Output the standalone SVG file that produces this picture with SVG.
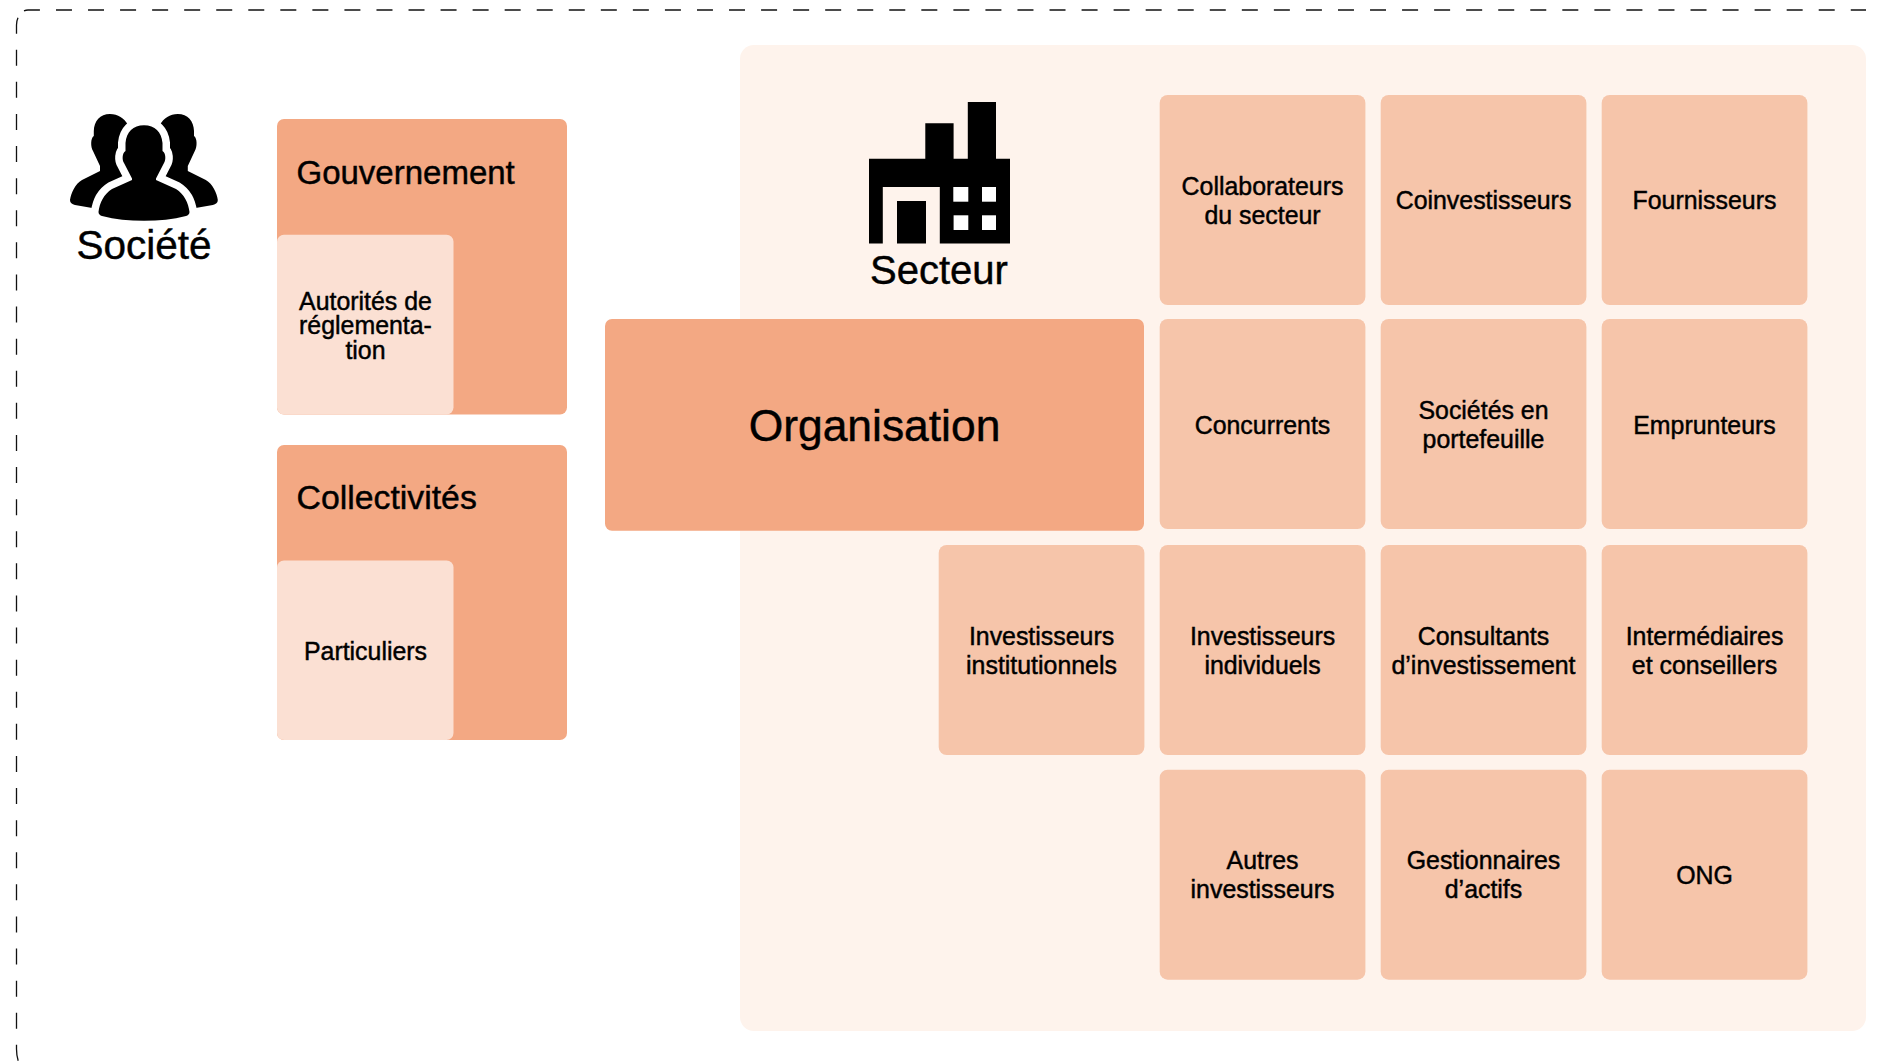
<svg xmlns="http://www.w3.org/2000/svg" width="1879" height="1062" viewBox="0 0 1879 1062">
<style>
text{font-family:"Liberation Sans",Arial,Helvetica,sans-serif;fill:#000;text-anchor:middle;stroke:#000;stroke-width:.45px}
.card{fill:#f6c5aa}
.strong{fill:#f3a883}
.sub{fill:#fbe0d3}
.t{font-size:24.9px}
.h{font-size:33px;text-anchor:start}
.b{font-size:40.5px}
.frame{fill:none;stroke:#111;stroke-width:1.3;stroke-dasharray:16 16.05}
</style>
<rect width="1879" height="1062" fill="#fff"/>
<g id="frame">
<path class="frame" d="M24,10.800 Q26,10 28,10 H1866"/>
<path class="frame" style="stroke-dasharray:16 16.1" d="M18,17.800 Q16.500,21 16.500,25 V1049 Q16.500,1057 19,1063"/>
</g>
<g id="societe">
<g id="societe-icon" fill="#000">
<path id="back" d="M110,114 C100,114 94,121 93.800,131 L93.800,136 C90.500,138 90.500,147 93,151 L100,166 L100,171 L82,180 C75,184 71,193 70,200 C70,203 72,204 75,205 L98,209 L120,190 L132,140 L128,125 C124,118 118,114 110,114Z"/>
<path d="M177.800,114 C187.800,114 193.800,121 194,131 L194,136 C197.300,138 197.300,147 194.800,151 L187.800,166 L187.800,171 L205.800,180 C212.800,184 216.800,193 217.800,200 C217.800,203 215.800,204 212.800,205 L189.800,209 L167.800,190 L155.800,140 L159.800,125 C163.800,118 169.800,114 177.800,114Z"/>
<path fill="#000" stroke="#fff" stroke-width="15" stroke-linejoin="round" paint-order="stroke" d="M144,125.300 C133,125.300 126.500,132 125.500,143 L125.500,151 C122,153 122,160 124,163 L132,178.500 L132,180 L112,189 C104,194 99.500,203 98.500,212 C98.500,214 100,215.500 102,216 C115,219.500 129,220.700 144,220.700 C159,220.700 173,219.500 186,216 C188,215.500 189.500,214 189.500,212 C188.500,203 184,194 176,189 L156,180 L156,178.500 L164,163 C166,160 166,153 162.500,151 L162.500,143 C161.500,132 155,125.300 144,125.300Z"/>
</g>
<text class="b" x="144" y="258.700">Société</text>
</g>
<g id="gouvernement">
<rect class="strong" x="277" y="119" width="290" height="295.500" rx="7"/>
<text class="h" x="296.500" y="184">Gouvernement</text>
</g>
<g id="autorites">
<rect class="sub" x="277" y="234.700" width="176.500" height="179.800" rx="7"/>
<text class="t" x="365.500" y="309.700">Autorités de</text>
<text class="t" x="365.500" y="333.700">réglementa-</text>
<text class="t" x="365.500" y="358.700">tion</text>
</g>
<g id="collectivites">
<rect class="strong" x="277" y="445" width="290" height="295" rx="7"/>
<text class="h" x="296.500" y="509" style="font-size:33.800px">Collectivités</text>
</g>
<g id="particuliers">
<rect class="sub" x="277" y="560.500" width="176.500" height="179.500" rx="7"/>
<text class="t" x="365.500" y="659.800">Particuliers</text>
</g>
<g id="secteur">
<rect x="740" y="45" width="1126" height="986" rx="14" fill="#fef3ec"/>
<path id="secteur-icon" fill="#000" fill-rule="evenodd" d="M869,158.700 H925.300 V123.300 H953.600 V158.700 H967.800 V102 H996 V158.700 H1010 V243.500 H939.800 V187 H882.800 V243.500 H869Z M897,201 H926 V243.500 H897Z"/>
<g fill="#fff">
<rect x="953.300" y="187" width="15" height="14.700"/>
<rect x="982" y="187" width="14" height="14.700"/>
<rect x="953.600" y="215.300" width="14.700" height="14.700"/>
<rect x="982" y="215.300" width="14" height="14.700"/>
</g>
<text class="b" x="939" y="284" style="font-size:40px">Secteur</text>
</g>
<g id="organisation">
<rect class="strong" x="605" y="319" width="539" height="211.700" rx="7"/>
<text x="874.500" y="440.500" style="font-size:44.400px">Organisation</text>
</g>
<g id="collaborateurs"><rect class="card" x="1159.700" y="95" width="205.700" height="210" rx="8"/><text class="t" x="1262.500" y="194.700">Collaborateurs</text><text class="t" x="1262.500" y="223.700">du secteur</text></g>
<g id="coinvestisseurs"><rect class="card" x="1380.700" y="95" width="205.700" height="210" rx="8"/><text class="t" x="1483.500" y="208.700">Coinvestisseurs</text></g>
<g id="fournisseurs"><rect class="card" x="1601.700" y="95" width="205.700" height="210" rx="8"/><text class="t" x="1704.500" y="208.700">Fournisseurs</text></g>
<g id="concurrents"><rect class="card" x="1159.700" y="319" width="205.700" height="210" rx="8"/><text class="t" x="1262.500" y="433.700">Concurrents</text></g>
<g id="societes-portefeuille"><rect class="card" x="1380.700" y="319" width="205.700" height="210" rx="8"/><text class="t" x="1483.500" y="418.700">Sociétés en</text><text class="t" x="1483.500" y="447.700">portefeuille</text></g>
<g id="emprunteurs"><rect class="card" x="1601.700" y="319" width="205.700" height="210" rx="8"/><text class="t" x="1704.500" y="433.700">Emprunteurs</text></g>
<g id="inv-institutionnels"><rect class="card" x="938.700" y="545" width="205.700" height="210" rx="8"/><text class="t" x="1041.500" y="644.700">Investisseurs</text><text class="t" x="1041.500" y="673.700">institutionnels</text></g>
<g id="inv-individuels"><rect class="card" x="1159.700" y="545" width="205.700" height="210" rx="8"/><text class="t" x="1262.500" y="644.700">Investisseurs</text><text class="t" x="1262.500" y="673.700">individuels</text></g>
<g id="consultants"><rect class="card" x="1380.700" y="545" width="205.700" height="210" rx="8"/><text class="t" x="1483.500" y="644.700">Consultants</text><text class="t" x="1483.500" y="673.700">d’investissement</text></g>
<g id="intermediaires"><rect class="card" x="1601.700" y="545" width="205.700" height="210" rx="8"/><text class="t" x="1704.500" y="644.700">Intermédiaires</text><text class="t" x="1704.500" y="673.700">et conseillers</text></g>
<g id="autres-investisseurs"><rect class="card" x="1159.700" y="769.700" width="205.700" height="210" rx="8"/><text class="t" x="1262.500" y="869">Autres</text><text class="t" x="1262.500" y="898">investisseurs</text></g>
<g id="gestionnaires"><rect class="card" x="1380.700" y="769.700" width="205.700" height="210" rx="8"/><text class="t" x="1483.500" y="869">Gestionnaires</text><text class="t" x="1483.500" y="898">d’actifs</text></g>
<g id="ong"><rect class="card" x="1601.700" y="769.700" width="205.700" height="210" rx="8"/><text class="t" x="1704.500" y="883.500">ONG</text></g>
</svg>
